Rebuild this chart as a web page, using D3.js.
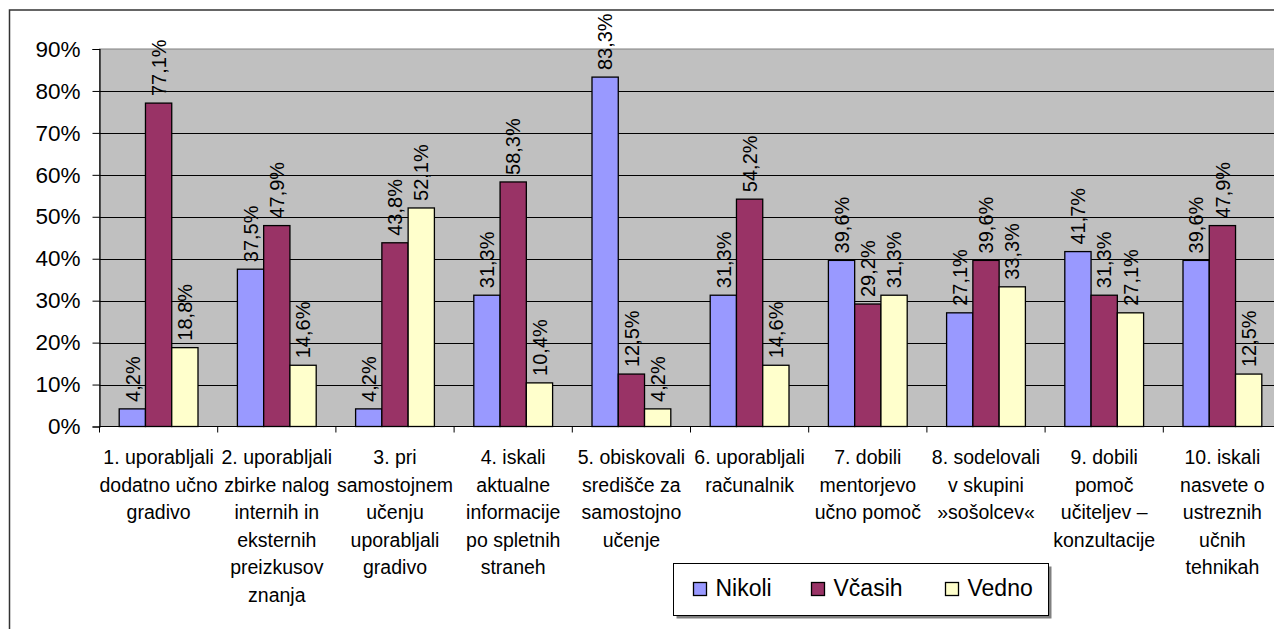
<!DOCTYPE html>
<html><head><meta charset="utf-8">
<script src="https://cdn.jsdelivr.net/npm/d3@7"></script>
<style>
html,body{margin:0;padding:0;background:#fff;}
svg{display:block;font-family:Arial,"Liberation Sans",sans-serif;}
</style></head>
<body><svg id="c" width="1274" height="629"></svg>
<script>
const categories = ["1","2","3","4","5","6","7","8","9","10"];
const categoryLines = [
  ["1. uporabljali","dodatno učno","gradivo"],
  ["2. uporabljali","zbirke nalog","internih in","eksternih","preizkusov","znanja"],
  ["3. pri","samostojnem","učenju","uporabljali","gradivo"],
  ["4. iskali","aktualne","informacije","po spletnih","straneh"],
  ["5. obiskovali","središče za","samostojno","učenje"],
  ["6. uporabljali","računalnik"],
  ["7. dobili","mentorjevo","učno pomoč"],
  ["8. sodelovali","v skupini","»sošolcev«"],
  ["9. dobili","pomoč","učiteljev –","konzultacije"],
  ["10. iskali","nasvete o","ustreznih","učnih","tehnikah"]
];
const seriesNames = ["Nikoli","Včasih","Vedno"];
const nikoli = [4.2,37.5,4.2,31.3,83.3,31.3,39.6,27.1,41.7,39.6];
const vcasih = [77.1,47.9,43.8,58.3,12.5,54.2,29.2,39.6,31.3,47.9];
const vedno  = [18.8,14.6,52.1,10.4,4.2,14.6,31.3,33.3,27.1,12.5];
const yTicks = [0,10,20,30,40,50,60,70,80,90];
const colors = ["#9999FF","#993366","#FFFFCC"];

const seriesValues = [nikoli, vcasih, vedno];
const svg = d3.select("#c");

// outer chart border
svg.append("rect").attr("x",9.5).attr("y",10).attr("width",1300).attr("height",640)
  .attr("fill","#fff").attr("stroke","#333").attr("stroke-width",1.5);

const x = d3.scaleBand().domain(categories).range([99.5,1281.5]).paddingInner(0).paddingOuter(0);
const xs = d3.scaleBand().domain(seriesNames).range([0,x.bandwidth()]).paddingInner(0).paddingOuter(0.75);
const y = d3.scaleLinear().domain([0,90]).range([426.5,49]);

// plot area
svg.append("rect").attr("x",x.range()[0]).attr("y",y(90)).attr("width",x.range()[1]-x.range()[0])
  .attr("height",y(0)-y(90)).attr("fill","#C0C0C0").attr("stroke","#808080").attr("stroke-width",1);

// gridlines
svg.append("g").selectAll("line").data(yTicks.filter(d=>d>0 && d<90)).join("line")
  .attr("x1",x.range()[0]).attr("x2",x.range()[1])
  .attr("y1",d=>Math.round(y(d))+0.5).attr("y2",d=>Math.round(y(d))+0.5)
  .attr("stroke","#000").attr("stroke-width",1);

// bars
const data = [];
categories.forEach((c,i)=>seriesNames.forEach((s,j)=>data.push({c,s,j,v:seriesValues[j][i]})));
svg.append("g").selectAll("rect").data(data).join("rect")
  .attr("x",d=>x(d.c)+xs(d.s)).attr("y",d=>y(d.v))
  .attr("width",xs.bandwidth()).attr("height",d=>y(0)-y(d.v))
  .attr("fill",d=>colors[d.j]).attr("stroke","#000").attr("stroke-width",1.3);

// data labels
const fmt = v => v.toFixed(1).replace(".",",")+"%";
svg.append("g").selectAll("text").data(data).join("text")
  .attr("transform",d=>`translate(${x(d.c)+xs(d.s)+xs.bandwidth()/2},${y(d.v)-7}) rotate(-90)`)
  .attr("dy","0.36em").attr("text-anchor","start")
  .attr("font-size","20px").attr("fill","#000").text(d=>fmt(d.v));

// y axis
const yAxis = d3.axisLeft(y).tickValues(yTicks).tickSize(7).tickPadding(12).tickFormat(d=>d+"%");
const gy = svg.append("g").attr("transform",`translate(${x.range()[0]},0)`).call(yAxis);
gy.select(".domain").attr("stroke","#000").attr("stroke-width",1.2);
gy.selectAll(".tick line").attr("stroke","#000");
gy.selectAll(".tick text").attr("font-size","22.5px").attr("font-family","Arial,'Liberation Sans',sans-serif").attr("fill","#000");

// x axis baseline and ticks
const bounds = categories.map(c=>x(c)).concat([x.range()[1]]);
svg.append("line").attr("x1",x.range()[0]).attr("x2",x.range()[1]).attr("y1",y(0)).attr("y2",y(0))
  .attr("stroke","#000").attr("stroke-width",1.2);
svg.append("g").selectAll("line").data(bounds).join("line")
  .attr("x1",d=>d).attr("x2",d=>d).attr("y1",y(0)).attr("y2",y(0)+6)
  .attr("stroke","#000").attr("stroke-width",1);

// category labels
const gl = svg.append("g").attr("font-size","19.5px").attr("fill","#000").attr("text-anchor","middle");
categories.forEach((c,i)=>{
  const t = gl.append("text").attr("x",x(c)+x.bandwidth()/2).attr("y",464);
  categoryLines[i].forEach((ln,k)=>{
    t.append("tspan").attr("x",x(c)+x.bandwidth()/2).attr("y",464+k*27.6).text(ln);
  });
});

// legend
const lg = svg.append("g");
lg.append("rect").attr("x",676.5).attr("y",566.5).attr("width",375).attr("height",52).attr("fill","#808080");
lg.append("rect").attr("x",673.5).attr("y",563.5).attr("width",375).attr("height",52)
  .attr("fill","#fff").attr("stroke","#000").attr("stroke-width",1);
const legX = [693.5, 811.5, 945.5];
seriesNames.forEach((s,j)=>{
  lg.append("rect").attr("x",legX[j]).attr("y",582.5).attr("width",13).attr("height",13)
    .attr("fill",colors[j]).attr("stroke","#000").attr("stroke-width",1.3);
  lg.append("text").attr("x",legX[j]+22).attr("y",596).attr("font-size","23px").attr("fill","#000").text(s);
});
</script></body></html>
